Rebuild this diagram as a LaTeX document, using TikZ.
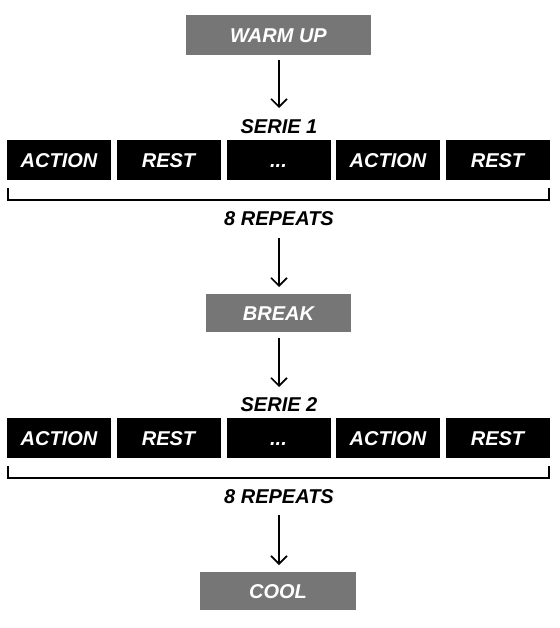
\documentclass[tikz,border=0pt]{standalone}
\usepackage{fontspec}
\setmainfont{Liberation Sans}
\usetikzlibrary{arrows.meta,calc}
\definecolor{greybox}{HTML}{767676}
\tikzset{
  txt/.style={font=\fontsize{20}{22}\selectfont\bfseries\itshape, inner sep=0pt, text height=14.3pt, text depth=0pt},
  greybox/.style={txt, fill=greybox, text=white, minimum height=39, draw=none},
  blackbox/.style={txt, fill=black, text=white, minimum width=104, minimum height=40},
  label/.style={txt, text=black},
  conn/.style={line width=1.6, -{Straight Barb[length=8,width=16,line width=1.6]}},
  brack/.style={line width=1.6}
}
\begin{document}
\begin{tikzpicture}[x=1pt,y=-1pt]
\useasboundingbox (0,0) rectangle (559,628);
% top
\node[greybox, minimum width=185, minimum height=40] (warm) at (278.5,35) {WARM UP};
\node[label] (s1) at (279,126) {SERIE 1};
\coordinate (w0) at (279,60);
\coordinate (s1top) at (279,108);
\draw[conn] (w0) -- (s1top);
% row 1
\node[blackbox] (a1) at (59,160) {ACTION};
\node[blackbox] (r1) at (168.5,160) {REST};
\node[blackbox] (d1) at (278.5,160) {...};
\node[blackbox] (b1) at (388,160) {ACTION};
\node[blackbox] (q1) at (497.5,160) {REST};
\draw[brack] (8,188) -- (8,200) -- (549,200) -- (549,188);
\node[label] (rep1) at (279,218) {8 REPEATS};
% break
\node[greybox, minimum width=145, minimum height=38] (brk) at (278.5,313) {BREAK};
\coordinate (rep1bot) at (279,238);
\coordinate (brktop) at (279,287);
\draw[conn] (rep1bot) -- (brktop);
\node[label] (s2) at (279,404) {SERIE 2};
\coordinate (brkbot) at (279,338);
\coordinate (s2top) at (279,387);
\draw[conn] (brkbot) -- (s2top);
% row 2
\node[blackbox] (a2) at (59,438) {ACTION};
\node[blackbox] (r2) at (168.5,438) {REST};
\node[blackbox] (d2) at (278.5,438) {...};
\node[blackbox] (b2) at (388,438) {ACTION};
\node[blackbox] (q2) at (497.5,438) {REST};
\draw[brack] (8,466) -- (8,478) -- (549,478) -- (549,466);
\node[label] (rep2) at (279,496) {8 REPEATS};
% cool
\node[greybox, minimum width=156, minimum height=38] (cool) at (278,591) {COOL};
\coordinate (rep2bot) at (279,515);
\coordinate (cooltop) at (279,565);
\draw[conn] (rep2bot) -- (cooltop);
\end{tikzpicture}
\end{document}
